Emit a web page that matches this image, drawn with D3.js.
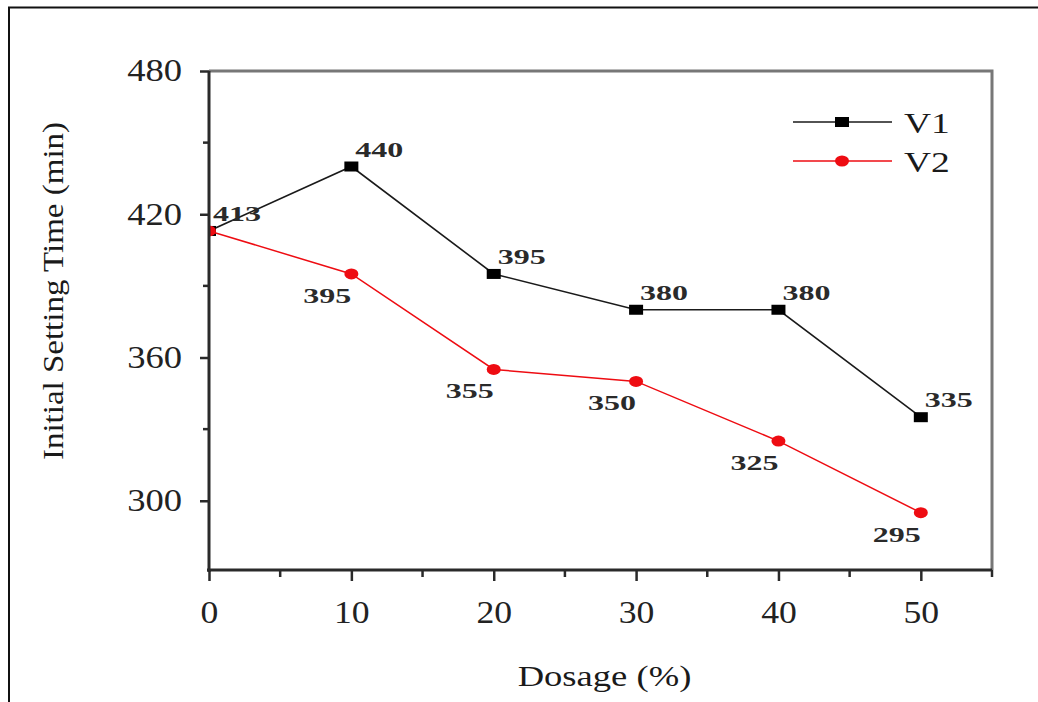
<!DOCTYPE html>
<html><head><meta charset="utf-8">
<script src="https://cdn.jsdelivr.net/npm/d3@7"></script>
<style>body{margin:0;background:#fff}svg{display:block}</style>
</head><body>
<svg id="chart" width="1038" height="702"></svg>
<script>
// Initial setting time versus dosage for two mixes
const dosage = [0, 10, 20, 30, 40, 50];
const v1Values = [413, 440, 395, 380, 380, 335];
const v2Values = [413, 395, 355, 350, 325, 295];
const seriesNames = ["V1", "V2"];
const yTicks = [300, 360, 420, 480];
const yMinorTicks = [330, 390, 450];
const xTicks = [0, 10, 20, 30, 40, 50];
const xMinorTicks = [5, 15, 25, 35, 45, 55];
const xTitle = "Dosage (%)";
const yTitle = "Initial Setting Time (min)";

const FONT = "'Liberation Serif','Times New Roman',serif";
const BLACK = "#1a1a1a", RED = "#ee0c12";

const svg = d3.select("#chart");
const x = d3.scaleLinear().domain([0, 55]).range([209, 992]);
const y = d3.scaleLinear().domain([271, 480]).range([570, 71]);

// outer page frame
svg.append("path").attr("d", "M9,702V7.5H1038")
  .attr("fill", "none").attr("stroke", "#111").attr("stroke-width", 2);

// top and right edges of the plot box
svg.append("path")
  .attr("d", `M${x(0)},${y(480)}H${x(55)}V${y(271)}`)
  .attr("fill", "none").attr("stroke", "#777").attr("stroke-width", 3);

// clip marks to the plotting area
svg.append("clipPath").attr("id", "plotClip").append("rect")
  .attr("x", x(0)).attr("y", y(480) - 20)
  .attr("width", x(55) - x(0)).attr("height", y(271) - y(480) + 20);

const plot = svg.append("g").attr("clip-path", "url(#plotClip)");

const line = d3.line().x((d, i) => x(dosage[i])).y(d => y(d));

// V1: black line with squares
plot.append("path").datum(v1Values).attr("d", line)
  .attr("fill", "none").attr("stroke", BLACK).attr("stroke-width", 1.6);
plot.selectAll("rect.v1").data(v1Values).join("rect").attr("class", "v1")
  .attr("x", (d, i) => x(dosage[i]) - 7).attr("y", d => y(d) - 5)
  .attr("width", 14).attr("height", 10).attr("fill", "#000");

// V2: red line with dots
plot.append("path").datum(v2Values).attr("d", line)
  .attr("fill", "none").attr("stroke", RED).attr("stroke-width", 1.5);
plot.selectAll("ellipse.v2").data(v2Values).join("ellipse").attr("class", "v2")
  .attr("cx", (d, i) => x(dosage[i])).attr("cy", d => y(d))
  .attr("rx", 7).attr("ry", 5.5).attr("fill", RED);

// axes
const yAxis = svg.append("g").attr("transform", `translate(${x(0)},0)`)
  .call(d3.axisLeft(y).tickValues(yTicks).tickSize(9).tickSizeOuter(0).tickPadding(18).tickFormat(d3.format("d")));
const xAxis = svg.append("g").attr("transform", `translate(0,${y(271)})`)
  .call(d3.axisBottom(x).tickValues(xTicks).tickSize(11).tickSizeOuter(0).tickPadding(20).tickFormat(d3.format("d")));

[yAxis, xAxis].forEach(g => {
  g.select(".domain").attr("stroke", "#2a2a2a").attr("stroke-width", 3);
  g.selectAll(".tick line").attr("stroke", "#2a2a2a").attr("stroke-width", 2.5);
  g.selectAll("text").attr("font-family", FONT).attr("font-size", 31).attr("fill", "#222");
});
yAxis.select(".domain").attr("d", `M0,${y(480)}V${y(271) + 2}`);
xAxis.select(".domain").attr("d", `M${x(0) - 2},0H${x(55)}`);

yAxis.selectAll(".tick text").each(function () {
  const tx = +this.getAttribute("x");
  d3.select(this).attr("x", 0).attr("transform", `translate(${tx},0) scale(1.18,1)`);
});
xAxis.selectAll(".tick text").each(function () {
  const ty = +this.getAttribute("y");
  d3.select(this).attr("y", 0).attr("transform", `translate(0,${ty}) scale(1.15,1)`);
});

// minor ticks
yAxis.selectAll("line.minor").data(yMinorTicks).join("line").attr("class", "minor")
  .attr("x1", -6).attr("x2", 0).attr("y1", d => y(d)).attr("y2", d => y(d))
  .attr("stroke", "#2a2a2a").attr("stroke-width", 2.5);
xAxis.selectAll("line.minor").data(xMinorTicks).join("line").attr("class", "minor")
  .attr("y1", 0).attr("y2", 7).attr("x1", d => x(d)).attr("x2", d => x(d))
  .attr("stroke", "#2a2a2a").attr("stroke-width", 2.5);

// value labels
const labelStyle = sel => sel.attr("font-family", FONT).attr("font-size", 20)
  .attr("font-weight", "bold").attr("fill", "#2a2a2a");

svg.append("g").selectAll("text").data(v1Values).join("text")
  .attr("transform", (d, i) => `translate(${x(dosage[i]) + 4},${y(d) - 10}) scale(1.6,1)`)
  .attr("text-anchor", "start").text(d => d).call(labelStyle);

svg.append("g").selectAll("text").data(v2Values.slice(1)).join("text")
  .attr("transform", (d, i) => `translate(${x(dosage[i + 1])},${y(d) + 29}) scale(1.6,1)`)
  .attr("text-anchor", "end").text(d => d).call(labelStyle);

// axis titles
svg.append("text").attr("transform", `translate(${(x(0) + x(55)) / 2 + 4},686) scale(1.22,1)`)
  .attr("text-anchor", "middle").attr("font-family", FONT).attr("font-size", 30)
  .attr("fill", "#1a1a1a").text(xTitle);
svg.append("text").attr("transform", `translate(63,291) rotate(-90) scale(1.1,1)`)
  .attr("text-anchor", "middle").attr("font-family", FONT).attr("font-size", 30)
  .attr("fill", "#1a1a1a").text(yTitle);

// legend
const legend = svg.append("g");
const legendRows = [
  { name: seriesNames[0], color: BLACK, shape: "square", yPos: 122 },
  { name: seriesNames[1], color: RED, shape: "circle", yPos: 161 }
];
legendRows.forEach(r => {
  legend.append("line").attr("x1", 793).attr("x2", 892).attr("y1", r.yPos).attr("y2", r.yPos)
    .attr("stroke", r.color).attr("stroke-width", 1.5);
  if (r.shape === "square") {
    legend.append("rect").attr("x", 842 - 7).attr("y", r.yPos - 5).attr("width", 14).attr("height", 10).attr("fill", "#000");
  } else {
    legend.append("ellipse").attr("cx", 842).attr("cy", r.yPos).attr("rx", 7).attr("ry", 5.5).attr("fill", r.color);
  }
  legend.append("text").attr("transform", `translate(904,${r.yPos + 11}) scale(1.25,1)`)
    .attr("font-family", FONT).attr("font-size", 30).attr("fill", "#1a1a1a").text(r.name);
});
</script>
</body></html>
